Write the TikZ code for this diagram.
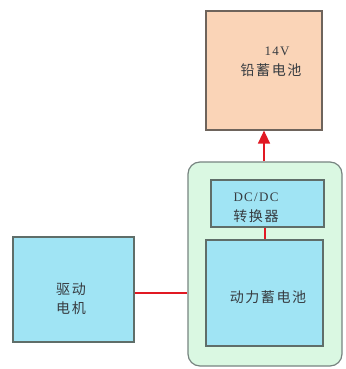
\documentclass[tikz,border=0pt]{standalone}
\usepackage{fontspec}
\newfontfamily\cjk[LetterSpace=11,Scale=1.08]{Noto Sans CJK SC}
\setmainfont[LetterSpace=10]{Liberation Serif}
\usetikzlibrary{arrows.meta}
\definecolor{peach}{RGB}{250,212,183}
\definecolor{lblue}{RGB}{160,228,244}
\definecolor{lgreen}{RGB}{218,248,226}
\definecolor{bordg}{RGB}{95,110,105}
\definecolor{bordb}{RGB}{110,100,92}
\definecolor{redl}{RGB}{225,25,35}
\definecolor{txtc}{RGB}{55,60,65}
\tikzset{
  box/.style={draw=bordg, line width=1.2pt, inner sep=0pt},
  txt/.style={font=\fontsize{13}{20}\selectfont, text=txtc, align=center, inner sep=0pt},
  wire/.style={draw=redl, line width=1.1pt}
}
\begin{document}
\begin{tikzpicture}[x=1pt,y=-1pt]
\useasboundingbox (0,0) rectangle (345,369);
% containers
\node[box, fill=lgreen, rounded corners=12pt, draw=bordg!85, minimum width=154pt, minimum height=204pt] (grp) at (265,264) {};
\node[box, fill=peach, draw=bordb, minimum width=116pt, minimum height=119pt] (lead) at (264,70.5) {};
\node[box, fill=lblue, minimum width=113pt, minimum height=47pt] (dcdc) at (267.5,203.5) {};
\node[box, fill=lblue, minimum width=117pt, minimum height=106pt] (pbat) at (264.5,293) {};
\node[box, fill=lblue, minimum width=121pt, minimum height=105pt] (motor) at (73.5,289.5) {};
% texts
\node[txt] (t1) at (271,62) {\hspace{12pt}14V\\{\cjk 铅蓄电池}};
\node[txt] (t2) at (256,208) {DC/DC\\{\cjk 转换器}};
\node[txt] (t3) at (268,297) {{\cjk 动力蓄电池}};
\node[txt, font=\fontsize{13}{19}\selectfont] (t4) at (71,298.5) {{\cjk 驱动}\\{\cjk 电机}};
% connectors
\coordinate (a0) at (264,163);
\coordinate (b0) at (265,0);
\coordinate (c0) at (0,293);
\draw[wire, line width=1.3pt, -{Triangle[length=13pt,width=12pt]}] (grp.north -| a0) -- (lead.south -| a0);
\draw[wire] (dcdc.south -| b0) -- (pbat.north -| b0);
\draw[wire] (motor.east |- c0) -- (grp.west |- c0);
\end{tikzpicture}
\end{document}
